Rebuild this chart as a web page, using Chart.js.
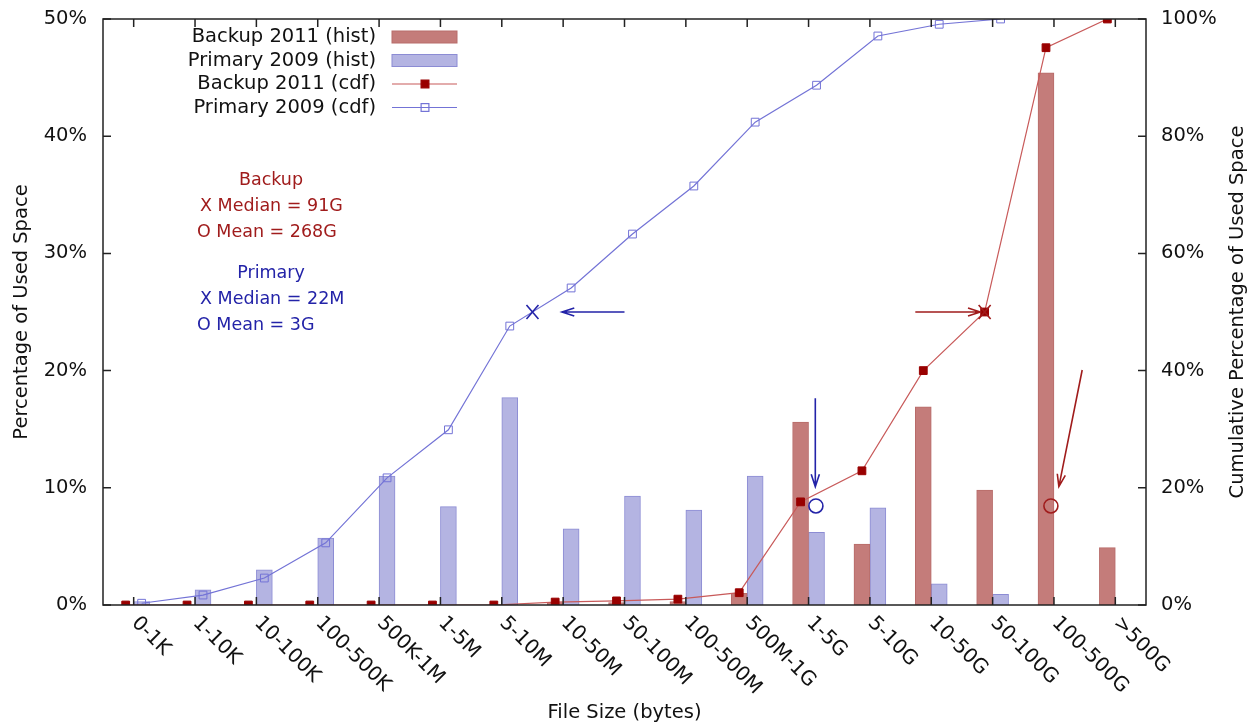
<!DOCTYPE html>
<html>
<head>
<meta charset="utf-8">
<script src="https://cdn.jsdelivr.net/npm/chart.js@4/dist/chart.umd.min.js"></script>
<style>
  html, body { margin: 0; padding: 0; background: #fff; }
  #wrap { width: 1251px; height: 727px; }
</style>
</head>
<body>
<div id="wrap"><canvas id="myChart"></canvas></div>
<script>
var sizes = ['0-1K', '1-10K', '10-100K', '100-500K', '500K-1M', '1-5M', '5-10M', '10-50M', '50-100M',
             '100-500M', '500M-1G', '1-5G', '5-10G', '10-50G', '50-100G', '100-500G', '>500G'];

// % of used space per size bucket
var backupHist  = [0, 0, 0, 0, 0, 0, 0, 0.2, 0.2, 0.3, 1.0, 15.6, 5.2, 16.9, 9.8, 45.4, 4.9];
var primaryHist = [0.3, 1.3, 3.0, 5.7, 11.0, 8.4, 17.7, 6.5, 9.3, 8.1, 11.0, 6.2, 8.3, 1.8, 0.9, 0, 0];

// cumulative % of used space
var backupCdf  = [0, 0, 0, 0, 0, 0, 0, 0.5, 0.7, 1.0, 2.1, 17.6, 22.9, 40.0, 50.0, 95.1, 100];
var primaryCdf = [0.3, 1.7, 4.6, 10.6, 21.7, 29.9, 47.6, 54.1, 63.3, 71.5, 82.4, 88.7, 97.1, 99.1, 100, null, null];

var leftTicks = [0, 10, 20, 30, 40, 50];
var rightTicks = [0, 20, 40, 60, 80, 100];

// median (X) and mean (O) markers, in bucket index / cdf % units: [backup, primary]
var medianAt = [[13.87, 50], [6.5, 50]];
var meanAt   = [[14.95, 16.9], [11.12, 16.9]];
// arrows pointing at them: [fromIdx, fromPct, toIdx, toPct]
var arrows = [
  [12.74, 50, 13.80, 50],
  [8.0, 50, 6.98, 50],
  [15.46, 40.1, 15.08, 20.2],
  [11.11, 35.3, 11.11, 20.2]
];
var notes = [
  ['Backup', 'X Median = 91G', 'O Mean = 268G'],
  ['Primary', 'X Median = 22M', 'O Mean = 3G']
];

var RED = '#a01c1c', BLUE = '#2323a8';
var FONT = '"DejaVu Sans", sans-serif';
var BAR = 16;          // bar width, px
var half = 0.13;       // half a bar, in bucket units

// bucket i sits at x = i, each series nudged to its own side
function shifted(arr, dx) {
  return arr.map(function (v, i) { return { x: i + dx, y: v }; });
}

function noPad(s) {
  s.paddingTop = 0; s.paddingBottom = 0; s.paddingLeft = 0; s.paddingRight = 0;
}

function arrow(ctx, x1, y1, x2, y2) {
  var a = Math.atan2(y2 - y1, x2 - x1), h = 13, w = 0.32;
  ctx.beginPath();
  ctx.moveTo(x1, y1); ctx.lineTo(x2, y2);
  ctx.moveTo(x2 - h * Math.cos(a - w), y2 - h * Math.sin(a - w));
  ctx.lineTo(x2, y2);
  ctx.lineTo(x2 - h * Math.cos(a + w), y2 - h * Math.sin(a + w));
  ctx.stroke();
}

var frame = {
  id: 'frame',
  afterDatasetsDraw: function (chart) {
    var ctx = chart.ctx, xs = chart.scales.x, y2 = chart.scales.y2;
    ctx.save();
    ctx.lineWidth = 1.6;
    [RED, BLUE].forEach(function (col, k) {
      ctx.strokeStyle = col;
      var mx = xs.getPixelForValue(medianAt[k][0]), my = y2.getPixelForValue(medianAt[k][1]);
      ctx.beginPath();
      ctx.moveTo(mx - 6, my - 7); ctx.lineTo(mx + 6, my + 7);
      ctx.moveTo(mx + 6, my - 7); ctx.lineTo(mx - 6, my + 7);
      ctx.stroke();
      var ox = xs.getPixelForValue(meanAt[k][0]), oy = y2.getPixelForValue(meanAt[k][1]);
      ctx.beginPath();
      ctx.arc(ox, oy, 7, 0, Math.PI * 2);
      ctx.stroke();
    });
    arrows.forEach(function (r, i) {
      ctx.strokeStyle = (i % 2 === 0) ? RED : BLUE;
      arrow(ctx, xs.getPixelForValue(r[0]), y2.getPixelForValue(r[1]),
                 xs.getPixelForValue(r[2]), y2.getPixelForValue(r[3]));
    });

    // annotation text
    ctx.font = '17.5px ' + FONT;
    ctx.textBaseline = 'middle';
    notes.forEach(function (lines, k) {
      var top = 180 + k * 93;
      ctx.fillStyle = k === 0 ? RED : BLUE;
      ctx.textAlign = 'center';
      ctx.fillText(lines[0], 271, top);
      ctx.textAlign = 'left';
      ctx.fillText(lines[1], 200, top + 26);
      ctx.fillText(lines[2], 197, top + 52);
    });
    ctx.restore();
  },
  afterDraw: function (chart) {
    var ctx = chart.ctx, a = chart.chartArea, xs = chart.scales.x;
    var y = chart.scales.y, y2 = chart.scales.y2;
    ctx.save();
    ctx.strokeStyle = '#222';
    ctx.lineWidth = 1.5;
    ctx.strokeRect(a.left, a.top, a.right - a.left, a.bottom - a.top);

    // inward ticks
    ctx.beginPath();
    sizes.forEach(function (s, i) {
      var px = xs.getPixelForValue(i);
      ctx.moveTo(px, a.bottom); ctx.lineTo(px, a.bottom - 8);
      ctx.moveTo(px, a.top); ctx.lineTo(px, a.top + 8);
    });
    leftTicks.forEach(function (v) {
      var py = y.getPixelForValue(v);
      ctx.moveTo(a.left, py); ctx.lineTo(a.left + 8, py);
    });
    rightTicks.forEach(function (v) {
      var py = y2.getPixelForValue(v);
      ctx.moveTo(a.right, py); ctx.lineTo(a.right - 8, py);
    });
    ctx.stroke();

    // slanted bucket labels
    ctx.fillStyle = '#111';
    ctx.font = '20px ' + FONT;
    ctx.textAlign = 'left';
    ctx.textBaseline = 'middle';
    sizes.forEach(function (s, i) {
      ctx.save();
      ctx.translate(xs.getPixelForValue(i) + 1, a.bottom + 15);
      ctx.rotate(Math.PI / 4);
      ctx.fillText(s, 0, 0);
      ctx.restore();
    });

    // right axis title
    ctx.font = '19.5px ' + FONT;
    ctx.save();
    ctx.translate(1238, (a.top + a.bottom) / 2);
    ctx.rotate(-Math.PI / 2);
    ctx.textAlign = 'center';
    ctx.fillText('Cumulative Percentage of Used Space', 0, 0);
    ctx.restore();

    // key
    var ds = chart.data.datasets;
    ds.forEach(function (d, i) {
      var ry = 37 + i * 23.5;
      ctx.fillStyle = '#111';
      ctx.textAlign = 'right';
      ctx.fillText(d.label, 376, ry);
      if (d.type === 'bar') {
        ctx.fillStyle = d.backgroundColor;
        ctx.strokeStyle = d.borderColor;
        ctx.lineWidth = 1;
        ctx.fillRect(392, ry - 6, 65, 12);
        ctx.strokeRect(392, ry - 6, 65, 12);
      } else {
        ctx.strokeStyle = d.borderColor;
        ctx.lineWidth = d.borderWidth;
        ctx.beginPath();
        ctx.moveTo(392, ry); ctx.lineTo(457, ry);
        ctx.stroke();
        var r = d.pointRadius * Math.SQRT1_2;
        if (d.pointBackgroundColor !== 'rgba(0,0,0,0)') {
          ctx.fillStyle = d.pointBackgroundColor;
          ctx.fillRect(425 - r, ry - r, 2 * r, 2 * r);
        }
        ctx.strokeStyle = d.pointBorderColor;
        ctx.strokeRect(425 - r, ry - r, 2 * r, 2 * r);
      }
    });
    ctx.restore();
  }
};

var ctx = document.getElementById('myChart');

var myChart = new Chart(ctx, {
  type: 'bar',
  data: {
    datasets: [{
      type: 'bar',
      label: 'Backup 2011 (hist)',
      data: shifted(backupHist, -half),
      backgroundColor: '#c47c7a',
      borderColor: '#b86c6a',
      borderWidth: 1,
      grouped: false,
      maxBarThickness: BAR,
      categoryPercentage: 1,
      barPercentage: 1,
      yAxisID: 'y',
      order: 2
    }, {
      type: 'bar',
      label: 'Primary 2009 (hist)',
      data: shifted(primaryHist, half),
      backgroundColor: '#b4b4e2',
      borderColor: '#8c8cd4',
      borderWidth: 1,
      grouped: false,
      maxBarThickness: BAR,
      categoryPercentage: 1,
      barPercentage: 1,
      yAxisID: 'y',
      order: 2
    }, {
      type: 'line',
      label: 'Backup 2011 (cdf)',
      data: shifted(backupCdf, -half),
      borderColor: '#c85a5a',
      borderWidth: 1.2,
      pointStyle: 'rect',
      pointRadius: 5.5,
      pointBackgroundColor: '#990000',
      pointBorderColor: '#990000',
      pointBorderWidth: 1,
      tension: 0,
      yAxisID: 'y2',
      order: 1
    }, {
      type: 'line',
      label: 'Primary 2009 (cdf)',
      data: shifted(primaryCdf, half),
      borderColor: '#7373d6',
      borderWidth: 1.2,
      pointStyle: 'rect',
      pointRadius: 5.5,
      pointBackgroundColor: 'rgba(0,0,0,0)',
      pointBorderColor: '#7373d6',
      pointBorderWidth: 1,
      tension: 0,
      yAxisID: 'y2',
      order: 1
    }]
  },
  options: {
    responsive: true,
    maintainAspectRatio: false,
    animation: false,
    layout: { padding: { top: 19, right: 0, left: 0, bottom: 0 } },
    plugins: { legend: { display: false }, tooltip: { enabled: false } },
    scales: {
      x: {
        type: 'linear',
        offset: false,
        min: -0.5,
        max: sizes.length - 0.5,
        grid: { display: false },
        border: { display: false },
        ticks: { display: false },
        title: { display: true, text: 'File Size (bytes)', color: '#111', font: { family: FONT, size: 19.5 }, padding: { bottom: 2 } },
        afterFit: function (s) { s.height = 122; noPad(s); }
      },
      y: {
        position: 'left',
        min: 0,
        max: 50,
        grid: { display: false },
        border: { display: false },
        ticks: { stepSize: 10, padding: 8, color: '#111', font: { family: FONT, size: 19.5 },
                 callback: function (v) { return v + '%'; } },
        title: { display: true, text: 'Percentage of Used Space', color: '#111', font: { family: FONT, size: 19.5 }, padding: { top: 10 } },
        afterFit: function (s) { s.width = 103; noPad(s); }
      },
      y2: {
        position: 'right',
        min: 0,
        max: 100,
        grid: { display: false },
        border: { display: false },
        ticks: { stepSize: 20, padding: 7, color: '#111', font: { family: FONT, size: 19.5 },
                 callback: function (v) { return v + '%'; } },
        afterFit: function (s) { s.width = 105; noPad(s); }
      }
    }
  },
  plugins: [frame]
});
</script>
</body>
</html>
